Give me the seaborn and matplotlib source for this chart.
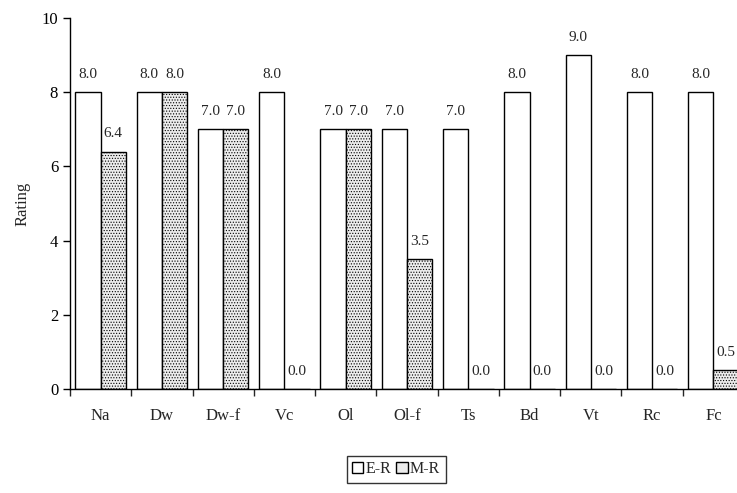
import numpy as np
import pandas as pd
import matplotlib
matplotlib.use("Agg")
import matplotlib.pyplot as plt
import seaborn as sns

categories = ['Na', 'Dw', 'Dw-f', 'Vc', 'Ol', 'Ol-f', 'Ts', 'Bd', 'Vt', 'Rc', 'Fc']
er_values = [8.0, 8.0, 7.0, 8.0, 7.0, 7.0, 7.0, 8.0, 9.0, 8.0, 8.0]
mr_values = [6.4, 8.0, 7.0, 0.0, 7.0, 3.5, 0.0, 0.0, 0.0, 0.0, 0.5]
series = ['E-R', 'M-R']

df = pd.DataFrame({
    'Category': categories * 2,
    'Series': ['E-R'] * len(categories) + ['M-R'] * len(categories),
    'Rating': er_values + mr_values,
})

sns.set_theme(style="ticks")
plt.rcParams['font.family'] = ['Liberation Serif', 'DejaVu Serif']
plt.rcParams['hatch.color'] = '#c8c8c8'
plt.rcParams['hatch.linewidth'] = 0.5

fig = plt.figure(figsize=(7.37, 4.93), dpi=100)
# axes run slightly past the right edge, as in the reference
ax = fig.add_axes([0.095, 0.211, 0.9145, 0.7525])

sns.barplot(data=df, x='Category', y='Rating', hue='Series', order=categories,
            hue_order=series, palette=['white', '#ececec'], width=0.825,
            edgecolor='black', linewidth=1.0, saturation=1, ax=ax)

# fine dotted texture on M-R bars
for bar in ax.containers[1]:
    bar.set_hatch('......')
    bar.set_edgecolor('black')

# value labels
for cont in ax.containers:
    ax.bar_label(cont, fmt='%.1f', padding=8, fontsize=11)

ax.set_ylim(0, 10)
ax.set_yticks(np.arange(0, 11, 2))
ax.set_xlim(-0.5, len(categories) - 0.5)
ax.set_xlabel('')
ax.set_ylabel('Rating', fontsize=12, labelpad=8)
ax.tick_params(axis='x', which='major', length=0, labelsize=12, pad=14)
ax.tick_params(axis='y', labelsize=12, length=5, width=1, direction='out', colors='black')
ax.set_xticks(np.arange(-0.5, len(categories), 1), minor=True)
ax.tick_params(axis='x', which='minor', length=5, width=1, direction='out')
for s in ['top', 'right']:
    ax.spines[s].set_visible(False)
for s in ['left', 'bottom']:
    ax.spines[s].set_linewidth(1.0)
    ax.spines[s].set_color('black')

leg = ax.legend(loc='upper center', bbox_to_anchor=(0.484, -0.18), ncol=2,
                frameon=True, fancybox=False, edgecolor='black', fontsize=11.5,
                handlelength=0.7, handleheight=0.7, handletextpad=0.15,
                columnspacing=0.3, borderpad=0.35, borderaxespad=0, title=None)
leg.get_frame().set_linewidth(1.0)

fig.savefig('out.png', dpi=100)
